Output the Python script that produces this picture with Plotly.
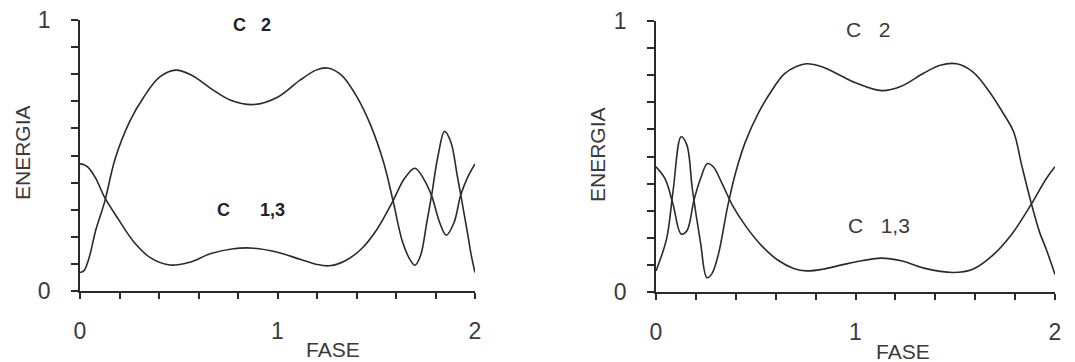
import plotly.graph_objects as go

# ---- data ----
fase_ticks = [0, 0.2, 0.4, 0.6, 0.8, 1.0, 1.2, 1.4, 1.6, 1.8, 2.0]
fase_ticktext = ["0", "", "", "", "", "1", "", "", "", "", "2"]
energia_ticks = [0, 0.1, 0.2, 0.3, 0.4, 0.5, 0.6, 0.7, 0.8, 0.9, 1.0]
energia_ticktext = ["0", "", "", "", "", "", "", "", "", "", "1"]

# left panel
left_c2_x = [0, 0.02, 0.045, 0.081, 0.124, 0.178, 0.25, 0.323, 0.404, 0.485, 0.566, 0.663,
             0.76, 0.88, 1.0, 1.114, 1.195, 1.252, 1.325, 1.407, 1.472, 1.537,
             1.585, 1.634, 1.675, 1.696, 1.724, 1.756, 1.78, 1.813, 1.846, 1.878, 1.91,
             1.93, 1.963, 1.98, 2.0]
left_c2_y = [0.068, 0.075, 0.12, 0.228, 0.327, 0.488, 0.623, 0.716, 0.79, 0.815, 0.796, 0.747,
             0.705, 0.688, 0.715, 0.778, 0.815, 0.823, 0.796, 0.71, 0.611, 0.475,
             0.333, 0.179, 0.111, 0.095, 0.13, 0.253, 0.352, 0.5, 0.589, 0.549, 0.426,
             0.346, 0.21, 0.136, 0.068]
left_c13_x = [0, 0.02, 0.04, 0.081, 0.124, 0.194, 0.275, 0.356, 0.453, 0.55, 0.663, 0.776,
              0.88, 1.0, 1.114, 1.195, 1.26, 1.341, 1.423, 1.504, 1.585, 1.642,
              1.696, 1.74, 1.78, 1.821, 1.854, 1.894, 1.927, 1.963, 2.0]
left_c13_y = [0.469, 0.466, 0.457, 0.414, 0.346, 0.265, 0.179, 0.123, 0.096, 0.105, 0.138, 0.156,
              0.158, 0.143, 0.117, 0.099, 0.093, 0.111, 0.154, 0.228, 0.333, 0.414,
              0.453, 0.414, 0.352, 0.253, 0.206, 0.253, 0.352, 0.42, 0.469]

# right panel
right_c2_x = [0, 0.053, 0.085, 0.126, 0.155, 0.182, 0.223, 0.255, 0.279, 0.311, 0.36, 0.4,
              0.448, 0.513, 0.577, 0.642, 0.706, 0.755, 0.835, 0.932, 1.0, 1.131, 1.229,
              1.343, 1.425, 1.507, 1.588, 1.67, 1.735, 1.792, 1.833, 1.882, 1.923, 1.956, 2.0]
right_c2_y = [0.078, 0.196, 0.369, 0.573, 0.542, 0.381, 0.183, 0.053, 0.066, 0.134, 0.319, 0.443,
              0.554, 0.66, 0.74, 0.804, 0.833, 0.842, 0.83, 0.796, 0.772, 0.743, 0.759,
              0.808, 0.837, 0.842, 0.812, 0.74, 0.666, 0.592, 0.468, 0.325, 0.22, 0.158, 0.065]
right_c13_x = [0, 0.045, 0.085, 0.126, 0.155, 0.19, 0.223, 0.258, 0.287, 0.335, 0.384, 0.448,
               0.529, 0.61, 0.69, 0.755, 0.835, 0.932, 1.0, 1.131, 1.229, 1.343, 1.49, 1.588,
               1.686, 1.784, 1.882, 1.956, 2.0]
right_c13_y = [0.462, 0.418, 0.325, 0.214, 0.226, 0.338, 0.418, 0.474, 0.462, 0.394, 0.319, 0.245,
               0.171, 0.118, 0.087, 0.078, 0.084, 0.1, 0.111, 0.125, 0.115, 0.088, 0.072, 0.084,
               0.134, 0.214, 0.325, 0.418, 0.462]

# ---- figure ----
W, H = 1075, 362
OFF = 8  # the page body margin shifts the figure by 8 px right and down
INK = "#2a2a2a"
TXT = "#3a3a3a"
FONT = "Liberation Sans, Arial, sans-serif"


def fx(px):
    return (px - OFF) / W


def fy(py):
    return (H - (py - OFF)) / H


fig = go.Figure()
line = dict(color=INK, width=1.6, shape="spline", smoothing=1.0)
fig.add_trace(go.Scatter(x=left_c2_x, y=left_c2_y, mode="lines", line=line, xaxis="x", yaxis="y", showlegend=False))
fig.add_trace(go.Scatter(x=left_c13_x, y=left_c13_y, mode="lines", line=line, xaxis="x", yaxis="y", showlegend=False))
fig.add_trace(go.Scatter(x=right_c2_x, y=right_c2_y, mode="lines", line=line, xaxis="x2", yaxis="y2", showlegend=False))
fig.add_trace(go.Scatter(x=right_c13_x, y=right_c13_y, mode="lines", line=line, xaxis="x2", yaxis="y2", showlegend=False))


def xaxis(domain, anchor):
    return dict(domain=domain, anchor=anchor, range=[0, 2], showgrid=False, zeroline=False,
                showline=True, linecolor=INK, linewidth=1.6, ticks="outside", ticklen=6,
                tickwidth=1.6, tickcolor=INK, tickvals=fase_ticks, ticktext=fase_ticktext,
                tickfont=dict(family=FONT, size=23, color=TXT), ticklabelstandoff=13,
                ticklabeloverflow="allow", automargin=False, fixedrange=True)


def yaxis(domain, anchor):
    return dict(domain=domain, anchor=anchor, range=[0, 1], showgrid=False, zeroline=False,
                showline=True, linecolor=INK, linewidth=1.6, ticks="outside", ticklen=7,
                tickwidth=1.6, tickcolor=INK, tickvals=energia_ticks, ticktext=energia_ticktext,
                tickfont=dict(family=FONT, size=23, color=TXT), ticklabelstandoff=16,
                ticklabeloverflow="allow", automargin=False, fixedrange=True)


fig.update_layout(
    width=W, height=H, margin=dict(l=0, r=0, t=0, b=0, autoexpand=False),
    paper_bgcolor="white", plot_bgcolor="white",
    xaxis=xaxis([fx(80), fx(475)], "y"),
    yaxis=yaxis([fy(291), fy(20)], "x"),
    xaxis2=xaxis([fx(656), fx(1055)], "y2"),
    yaxis2=yaxis([fy(292), fy(21)], "x2"),
)

nb = "\u00a0"
ann = []


def note(text, px, py, size, color=TXT, angle=0):
    ann.append(dict(text=text, x=fx(px), y=fy(py), xref="paper", yref="paper",
                    xanchor="center", yanchor="middle", showarrow=False, textangle=angle,
                    font=dict(family=FONT, size=size, color=color)))


# axis titles
note("FASE", 333, 349, 21)
note("FASE", 903, 351, 21)
note("ENERGIA", 22, 153, 21, angle=-90)
note("ENERGIA", 597, 155, 21, angle=-90)
# curve labels
note("<b>C" + nb * 3 + "2</b>", 252, 25, 18, "#222")
note("<b>C" + nb * 6 + "1,3</b>", 251, 210, 18, "#222")
note("C" + nb * 3 + "2", 868, 30, 21)
note("C" + nb * 3 + "1,3", 879, 225, 21)
fig.update_layout(annotations=ann)

fig.write_html("out.html")
